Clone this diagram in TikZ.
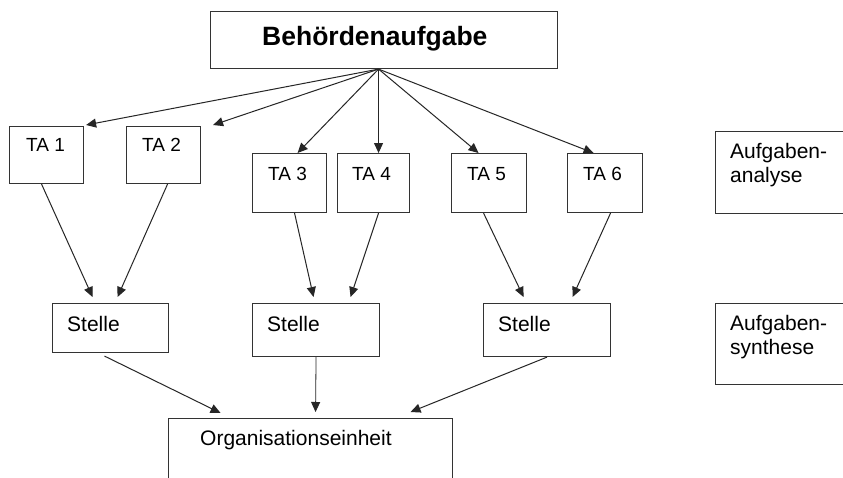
\documentclass[tikz,border=0pt]{standalone}
\usepackage{fontspec}
\setmainfont{Liberation Sans}
\usetikzlibrary{arrows.meta,calc}
\begin{document}
\begin{tikzpicture}[x=1pt,y=-1pt,
  box/.style={draw=black!80, line width=1.1pt, anchor=north west, inner sep=0pt, rectangle},
  txt/.style={anchor=base west, inner sep=0pt, font=\fontsize{21}{24}\selectfont},
  tatxt/.style={anchor=base west, inner sep=0pt, font=\fontsize{19}{22}\selectfont},
  headtxt/.style={anchor=base west, inner sep=0pt, font=\bfseries\fontsize{26.5}{30}\selectfont},
  conn/.style={draw=black!85, line width=1pt, -{Triangle[length=10pt,width=9pt]}},
]
\clip (0,0) rectangle (843,477);
\fill[white] (0,0) rectangle (843,477);

% top task
\node[box, minimum width=347pt, minimum height=57pt] (top) at (210,11) {};
\node[headtxt] (toptxt) at (262,45) {Behördenaufgabe};
\coordinate (hub) at ([xshift=-5.5pt]top.south);

% partial tasks
\node[box, minimum width=74pt, minimum height=57pt] (ta1) at (9,126) {};
\node[box, minimum width=74pt, minimum height=57pt] (ta2) at (126,126) {};
\node[box, minimum width=74pt, minimum height=59pt] (ta3) at (252,153) {};
\node[box, minimum width=72pt, minimum height=59pt] (ta4) at (337,153) {};
\node[box, minimum width=75pt, minimum height=59pt] (ta5) at (451,153) {};
\node[box, minimum width=75pt, minimum height=59pt] (ta6) at (567,153) {};
\node[tatxt] at (26,151) {TA 1};
\node[tatxt] at (142,151) {TA 2};
\node[tatxt] at (268,180) {TA 3};
\node[tatxt] at (352,180) {TA 4};
\node[tatxt] at (467,180) {TA 5};
\node[tatxt] at (583,180) {TA 6};
\coordinate (ta2end) at ([xshift=12pt,yshift=1pt]ta2.north east);

% positions
\node[box, minimum width=116pt, minimum height=49pt] (s1) at (52,303) {};
\node[box, minimum width=127pt, minimum height=53pt] (s2) at (252,303) {};
\node[box, minimum width=127pt, minimum height=53pt] (s3) at (483,303) {};
\node[txt] at (67,331) {Stelle};
\node[txt] at (267,331) {Stelle};
\node[txt] at (498,331) {Stelle};

% organisational unit
\node[box, minimum width=284pt, minimum height=90pt] (org) at (168,418) {};
\node[txt] at (200,445) {Organisationseinheit};

% side labels
\node[box, minimum width=160pt, minimum height=82pt] (ana) at (715,131) {};
\node[txt] at (730,158) {Aufgaben-};
\node[txt] at (730,182) {analyse};
\node[box, minimum width=160pt, minimum height=81pt] (syn) at (715,303) {};
\node[txt] at (730,330) {Aufgaben-};
\node[txt] at (730,354) {synthese};

% analysis arrows
\draw[conn] (hub) -- ([xshift=2pt,yshift=1pt]ta1.north east);
\draw[conn] (hub) -- (ta2end);
\draw[conn] (hub) -- ([xshift=8pt]ta3.north);
\draw[conn] (hub) -- ([xshift=5pt]ta4.north);
\draw[conn] (hub) -- ([xshift=-10.5pt]ta5.north);
\draw[conn] (hub) -- ([xshift=-11.5pt]ta6.north);

% synthesis arrows
\draw[conn] ([xshift=-5pt]ta1.south) -- ([xshift=-18pt,yshift=6pt]s1.north);
\draw[conn] ([xshift=4pt]ta2.south) -- ([xshift=7pt,yshift=6pt]s1.north);
\draw[conn] ([xshift=5pt]ta3.south) -- ([xshift=-2.5pt,yshift=6pt]s2.north);
\draw[conn] ([xshift=5pt]ta4.south) -- ([xshift=34.5pt,yshift=6pt]s2.north);
\draw[conn] ([xshift=-5.5pt]ta5.south) -- ([xshift=-23.5pt,yshift=6pt]s3.north);
\draw[conn] ([xshift=5.5pt]ta6.south) -- ([xshift=25.5pt,yshift=6pt]s3.north);

% into the organisational unit
\draw[conn] ([xshift=-6pt,yshift=-3pt]s1.south) -- ([xshift=-90pt,yshift=5pt]org.north);
\draw[conn, line width=0.8pt] (s2.south) -- ([xshift=5pt,yshift=6pt]org.north);
\draw[conn] (s3.south) -- ([xshift=100pt,yshift=6pt]org.north);
\end{tikzpicture}
\end{document}
